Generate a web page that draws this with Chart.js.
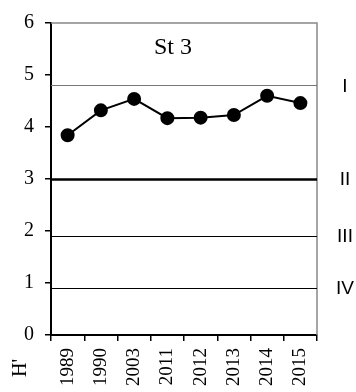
<!DOCTYPE html>
<html>
<head>
<meta charset="utf-8">
<script src="https://cdn.jsdelivr.net/npm/chart.js@4"></script>
<style>
  html, body { margin: 0; padding: 0; background: #fff; }
  #wrap { width: 356px; height: 392px; position: relative; }
</style>
</head>
<body>
<div id="wrap"><canvas id="chart"></canvas></div>
<script>
const years = ["1989", "1990", "2003", "2011", "2012", "2013", "2014", "2015"];
const hValues = [3.84, 4.32, 4.54, 4.17, 4.18, 4.23, 4.6, 4.46];
const yTicks = [0, 1, 2, 3, 4, 5, 6];
const thresholds = [4.8, 3, 1.9, 0.9];
const classLabels = ["I", "II", "III", "IV"];
const stationLabel = "St 3";
const axisLabel = "H'";

const serif = "'Liberation Serif', 'Times New Roman', serif";

// threshold lines, frame, class labels and captions
const extras = {
  id: "extras",
  beforeDatasetsDraw(chart) {
    const { ctx, chartArea: a, scales } = chart;
    const y = scales.y;
    ctx.save();
    // top and right frame
    ctx.strokeStyle = "#888";
    ctx.lineWidth = 1.5;
    ctx.beginPath();
    ctx.moveTo(a.left, a.top);
    ctx.lineTo(a.right, a.top);
    ctx.lineTo(a.right, a.bottom);
    ctx.stroke();
    thresholds.forEach((v, i) => {
      const py = Math.round(y.getPixelForValue(v)) + 0.5;
      ctx.strokeStyle = i === 0 ? "#777" : "#000";
      ctx.lineWidth = i === 1 ? 2.5 : 1.2;
      ctx.beginPath();
      ctx.moveTo(a.left, py);
      ctx.lineTo(a.right, py);
      ctx.stroke();
    });
    ctx.restore();
  },
  afterDraw(chart) {
    const { ctx, chartArea: a, scales } = chart;
    const y = scales.y;
    ctx.save();
    ctx.fillStyle = "#000";
    ctx.font = "19px 'Liberation Sans', Arial, sans-serif";
    ctx.textAlign = "center";
    ctx.textBaseline = "middle";
    thresholds.forEach((v, i) => {
      ctx.fillText(classLabels[i], a.right + 28, y.getPixelForValue(v) + 1);
    });
    ctx.font = "24px " + serif;
    ctx.fillText(stationLabel, 173, a.top + 25);
    ctx.save();
    ctx.translate(a.left - 30, a.bottom + 33);
    ctx.rotate(-Math.PI / 2);
    ctx.font = "20px " + serif;
    ctx.fillText(axisLabel, 0, 0);
    ctx.restore();
    ctx.restore();
  }
};

new Chart(document.getElementById("chart"), {
  type: "line",
  data: {
    labels: years,
    datasets: [{
      data: hValues,
      borderColor: "#000",
      backgroundColor: "#000",
      borderWidth: 2,
      pointRadius: 6,
      pointHoverRadius: 6,
      tension: 0,
      fill: false
    }]
  },
  options: {
    responsive: true,
    maintainAspectRatio: false,
    animation: false,
    layout: { padding: { left: 0, right: 39, top: 21, bottom: 0 } },
    plugins: { legend: { display: false }, tooltip: { enabled: false } },
    scales: {
      x: {
        offset: true,
        afterFit(scale) { scale.height = 57; },
        grid: {
          offset: true,
          drawOnChartArea: false,
          drawTicks: true,
          tickLength: 6,
          color: "#000",
          lineWidth: 1.5
        },
        border: { color: "#000", width: 2 },
        ticks: {
          color: "#000",
          font: { family: serif, size: 19 },
          maxRotation: 90,
          minRotation: 90,
          padding: 7,
          autoSkip: false
        }
      },
      y: {
        min: 0,
        max: 6,
        afterBuildTicks(scale) { scale.ticks = yTicks.map(v => ({ value: v })); },
        afterFit(scale) { scale.width = 51; },
        grid: {
          drawOnChartArea: false,
          drawTicks: true,
          tickLength: 6,
          color: "#000",
          lineWidth: 1.5
        },
        border: { color: "#000", width: 2 },
        ticks: {
          color: "#000",
          font: { family: serif, size: 20 },
          padding: 11
        }
      }
    }
  },
  plugins: [extras]
});
</script>
</body>
</html>
